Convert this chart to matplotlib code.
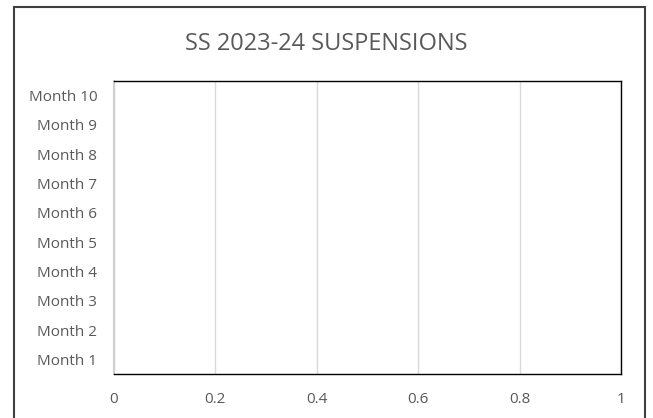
import matplotlib
matplotlib.use("Agg")
import matplotlib.pyplot as plt
from matplotlib.patches import Rectangle

# chart data (the source chart has no bars drawn)
months = ["Month 1", "Month 2", "Month 3", "Month 4", "Month 5",
          "Month 6", "Month 7", "Month 8", "Month 9", "Month 10"]
suspensions = [0, 0, 0, 0, 0, 0, 0, 0, 0, 0]
x_ticks = [0, 0.2, 0.4, 0.6, 0.8, 1]
x_labels = ["0", "0.2", "0.4", "0.6", "0.8", "1"]

plt.rcParams['font.family'] = ['Open Sans', 'DejaVu Sans']

fig = plt.figure(figsize=(6.53, 4.18), dpi=100)
ax = fig.add_axes([114 / 653, 1 - 374 / 418, 507 / 653, 293 / 418])

ax.barh(months, suspensions, color="#4472c4", height=0.6)

ax.set_xlim(0, 1)
ax.set_ylim(-0.5, len(months) - 0.5)
ax.set_xticks(x_ticks)
ax.set_xticklabels(x_labels)
ax.tick_params(axis="both", length=0, labelsize=11, colors="#595959")
ax.tick_params(axis="x", pad=13)
ax.tick_params(axis="y", pad=12)
ax.grid(axis="x", color="#d9d9d9", linewidth=1)
ax.set_axisbelow(True)

for side in ["top", "right", "bottom"]:
    ax.spines[side].set_color("black")
    ax.spines[side].set_linewidth(1)
ax.spines["left"].set_color("#d0d0d0")
ax.spines["left"].set_linewidth(1.5)

fig.text(0.5, 1 - 49.5 / 418, "SS 2023-24 SUSPENSIONS", ha="center", va="baseline",
         fontsize=17, color="#595959")

# outer chart border
fig.patches.append(Rectangle((14 / 653, -0.1), 631 / 653, 1.1 - 7 / 418,
                             transform=fig.transFigure, fill=False,
                             edgecolor="#404040", linewidth=1.5))

fig.savefig("out.png", dpi=100)
